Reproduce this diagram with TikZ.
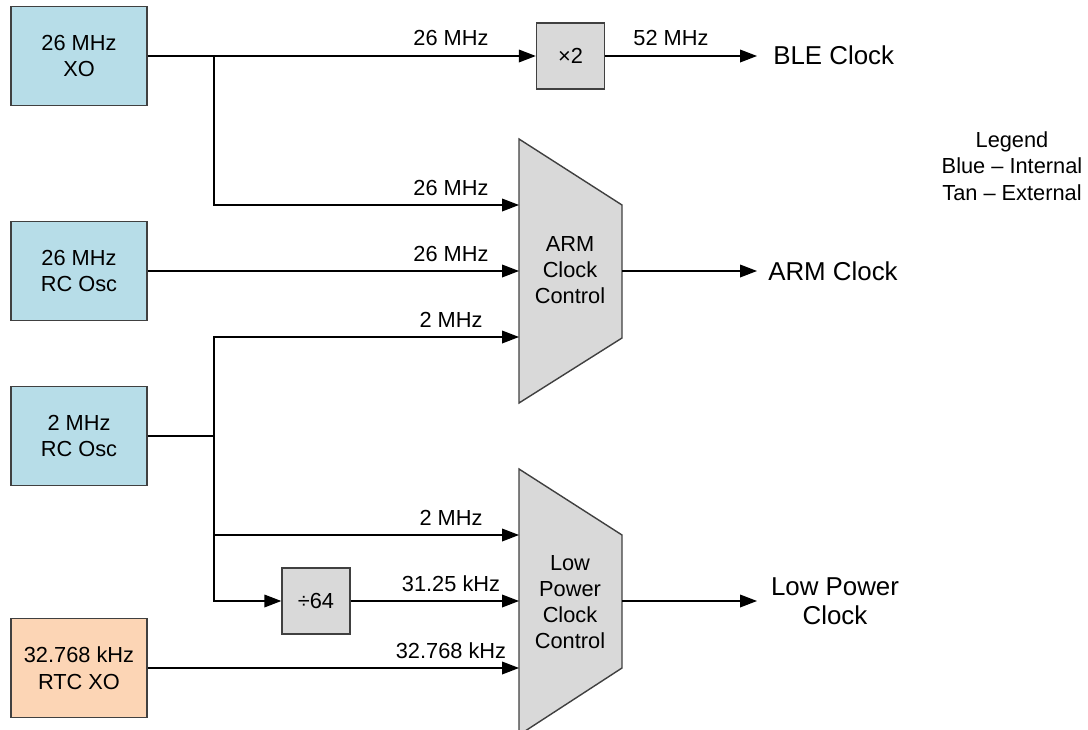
\documentclass[tikz,border=0pt]{standalone}
\usepackage{fontspec}
\setmainfont{Liberation Sans}
\usetikzlibrary{arrows.meta, positioning, calc}
\definecolor{intblue}{RGB}{183,221,232}
\definecolor{exttan}{RGB}{252,213,181}
\definecolor{muxgray}{RGB}{217,217,217}
\newcommand{\boxfont}{\fontsize{15.5}{19}\selectfont}
\newcommand{\muxfont}{\fontsize{15.5}{18.4}\selectfont}
\newcommand{\outfont}{\fontsize{18.4}{20.5}\selectfont}

\begin{document}
\begin{tikzpicture}[
    x=0.025cm, y=-0.025cm,
    srcbox/.style={rectangle, draw=black!75, line width=1pt, minimum width=3.4cm, minimum height=2.475cm, align=center, font=\boxfont, inner sep=0pt},
    internal/.style={srcbox, fill=intblue},
    external/.style={srcbox, fill=exttan},
    opbox/.style={rectangle, draw=black!75, line width=1pt, fill=muxgray, minimum width=1.7cm, minimum height=1.65cm, font=\boxfont, inner sep=0pt},
    mux/.style={draw=black!75, line width=1pt, fill=muxgray},
    muxtext/.style={align=center, font=\muxfont, inner sep=0pt},
    lbl/.style={font=\boxfont, inner sep=0pt, anchor=base},
    outlbl/.style={font=\outfont, align=center, inner sep=0pt},
    wire/.style={line width=0.9pt},
    arrow/.style={wire, -{Triangle[length=12pt, width=9pt]}}
]
\useasboundingbox (0,0) rectangle (1088,730);

% Nodes
\node (xo) [internal] at (79,56) {26 MHz\\XO};
\node (rc26) [internal] at (79,271) {26 MHz\\RC Osc};
\node (rc2) [internal] at (79,436) {2 MHz\\RC Osc};
\node (rtc) [external] at (79,668) {32.768 kHz\\RTC XO};
\node (mul) [opbox] at (570.5,56) {×2};
\node (div) [opbox] at (316,601) {÷64};

\draw[mux] (519,139) -- (622,205) -- (622,338) -- (519,403) -- cycle;
\node (arm) [muxtext] at (570,270) {ARM\\Clock\\Control};
\draw[mux] (519,469) -- (622,535) -- (622,668) -- (519,735) -- cycle;
\node (lp) [muxtext] at (570,602) {Low\\Power\\Clock\\Control};

\coordinate (arm1) at (519,205);
\coordinate (arm2) at (519,271);
\coordinate (arm3) at (519,337);
\coordinate (armout) at (622,271);
\coordinate (lp1) at (519,535);
\coordinate (lp2) at (519,601);
\coordinate (lp3) at (519,668);
\coordinate (lpout) at (622,601);
\coordinate (xotap) at (214,56);
\coordinate (rc2tap) at (214,436);

\node (ble) [outlbl, anchor=west] at (773,55) {BLE Clock};
\node (armclk) [outlbl, anchor=west] at (768,271) {ARM Clock};
\node (lpclk) [outlbl] at (835,601) {Low Power\\Clock};
\node (legend) [align=center, font=\boxfont, inner sep=0pt] at (1012,166) {Legend\\Blue -- Internal\\Tan -- External};

\node (f1) [lbl] at (451,46) {26 MHz};
\node (f2) [lbl] at (671,46) {52 MHz};
\node (f3) [lbl] at (451,195) {26 MHz};
\node (f4) [lbl] at (451,261) {26 MHz};
\node (f5) [lbl] at (451,327) {2 MHz};
\node (f6) [lbl] at (451,525) {2 MHz};
\node (f7) [lbl] at (451,591) {31.25 kHz};
\node (f8) [lbl] at (451,658) {32.768 kHz};

% Connections
\draw [arrow] (xo.east) -- (mul.west);
\draw [arrow] (mul.east) -- (757,56);
\draw [arrow] (xotap) |- (arm1);
\draw [arrow] (rc26.east) -- (arm2);
\draw [arrow] (armout) -- (757,271);
\draw [wire] (rc2.east) -- (rc2tap);
\draw [arrow] (rc2tap) |- (arm3);
\draw [arrow] (rc2tap) |- (lp1);
\draw [arrow] (rc2tap) |- (div.west);
\draw [arrow] (div.east) -- (lp2);
\draw [arrow] (rtc.east) -- (lp3);
\draw [arrow] (lpout) -- (757,601);

\end{tikzpicture}
\end{document}
